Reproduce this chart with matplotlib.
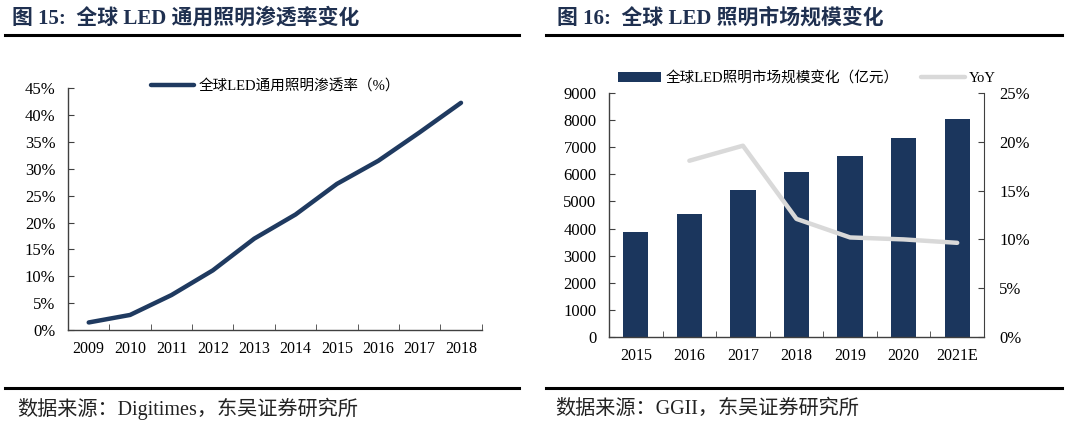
import matplotlib
matplotlib.use('Agg')
import matplotlib.pyplot as plt
from matplotlib.ticker import FuncFormatter, MultipleLocator

plt.rcParams['font.family'] = ['Liberation Serif', 'Noto Sans CJK SC']
plt.rcParams['axes.unicode_minus'] = False

# left chart: penetration rate
years_pen = ['2009', '2010', '2011', '2012', '2013', '2014', '2015', '2016', '2017', '2018']
penetration = [0.014, 0.028, 0.065, 0.111, 0.170, 0.215, 0.272, 0.315, 0.368, 0.423]

# right chart: market size and YoY
years_mkt = ['2015', '2016', '2017', '2018', '2019', '2020', '2021E']
market = [3870, 4550, 5440, 6080, 6690, 7350, 8050]
yoy_years = ['2016', '2017', '2018', '2019', '2020', '2021E']
yoy = [0.1806, 0.196, 0.121, 0.102, 0.100, 0.0965]

navy = '#1B365D'
axis_col = '#404040'
title_col = '#1F3050'
tick_fs = 11.5
fam = ['Liberation Serif', 'Noto Sans CJK SC']

fig = plt.figure(figsize=(10.8, 4.26), dpi=100)


def style_axis(ax):
    for s in ['top', 'right']:
        ax.spines[s].set_visible(False)
    for s in ['left', 'bottom']:
        ax.spines[s].set_color(axis_col)
        ax.spines[s].set_linewidth(1.0)
    ax.tick_params(axis='both', direction='in', length=4, color=axis_col,
                   labelsize=tick_fs, labelcolor='black')
    ax.tick_params(axis='y', labelsize=12, pad=9)
    ax.tick_params(axis='x', which='major', length=0, pad=8)
    ax.tick_params(axis='x', which='minor', length=4, direction='in', color=axis_col)


# ---- left chart ----
ax1 = fig.add_axes([0.063, 0.2254, 0.383, 0.5673])
x1 = range(len(years_pen))
ax1.plot(x1, penetration, color='#1F3A60', linewidth=3.2, solid_capstyle='round',
         label='全球LED通用照明渗透率（%）')
ax1.set_xlim(-0.5, len(years_pen) - 0.5)
ax1.set_ylim(0, 0.45)
ax1.yaxis.set_major_locator(MultipleLocator(0.05))
ax1.yaxis.set_major_formatter(FuncFormatter(lambda v, p: f'{v * 100:.0f}%'))
ax1.set_xticks(list(x1))
ax1.set_xticklabels(years_pen)
ax1.set_xticks([i + 0.5 for i in range(len(years_pen))], minor=True)
style_axis(ax1)
ax1.legend(loc='lower center', bbox_to_anchor=(0.255, 0.75), bbox_transform=fig.transFigure,
           frameon=False, handlelength=3.0, handletextpad=0.3,
           prop={'family': fam, 'size': 10.5})

# ---- right chart ----
ax2 = fig.add_axes([0.5639, 0.2089, 0.3472, 0.5728])
x2 = list(range(len(years_mkt)))
bars = ax2.bar(x2, market, width=0.47, color=navy, zorder=2)
ax2.set_xlim(-0.5, len(years_mkt) - 0.5)
ax2.set_ylim(0, 9000)
ax2.yaxis.set_major_locator(MultipleLocator(1000))
ax2.set_xticks(x2)
ax2.set_xticklabels(years_mkt)
ax2.set_xticks([i + 0.5 for i in range(len(years_mkt) - 1)], minor=True)
style_axis(ax2)

ax3 = ax2.twinx()
yoy_x = [years_mkt.index(y) for y in yoy_years]
ln, = ax3.plot(yoy_x, yoy, color='#D9D9D9', linewidth=3.2, solid_capstyle='round', zorder=3)
ax3.set_ylim(0, 0.25)
ax3.yaxis.set_major_locator(MultipleLocator(0.05))
ax3.yaxis.set_major_formatter(FuncFormatter(lambda v, p: f'{v * 100:.0f}%'))
for s in ['top', 'left', 'bottom']:
    ax3.spines[s].set_visible(False)
ax3.spines['right'].set_color(axis_col)
ax3.tick_params(axis='y', direction='in', length=4, color=axis_col, labelsize=12, pad=11)

ax2.legend([bars, ln], ['全球LED照明市场规模变化（亿元）', 'YoY'], ncol=2,
           loc='lower center', bbox_to_anchor=(0.747, 0.769), bbox_transform=fig.transFigure,
           frameon=False, handlelength=3.0, handletextpad=0.3, columnspacing=1.5,
           prop={'family': fam, 'size': 10.5})

# ---- titles, rules and sources ----
fig.text(0.011, 0.958, '图 15:  全球 LED 通用照明渗透率变化', fontsize=15, fontweight='bold',
         color=title_col, va='center', ha='left', family=fam)
fig.text(0.516, 0.958, '图 16:  全球 LED 照明市场规模变化', fontsize=15, fontweight='bold',
         color=title_col, va='center', ha='left', family=fam)

for x0, x1_ in [(0.005, 0.481), (0.506, 0.983)]:
    fig.add_artist(plt.Line2D([x0, x1_], [0.918, 0.918], color='black', linewidth=2.2))
    fig.add_artist(plt.Line2D([x0, x1_], [0.089, 0.089], color='black', linewidth=2.2))

fig.text(0.016, 0.040, '数据来源：Digitimes，东吴证券研究所', fontsize=14.5, color='#222222',
         va='center', ha='left', family=fam)
fig.text(0.514, 0.040, '数据来源：GGII，东吴证券研究所', fontsize=14.5, color='#222222',
         va='center', ha='left', family=fam)

fig.savefig('out.png', dpi=100)
